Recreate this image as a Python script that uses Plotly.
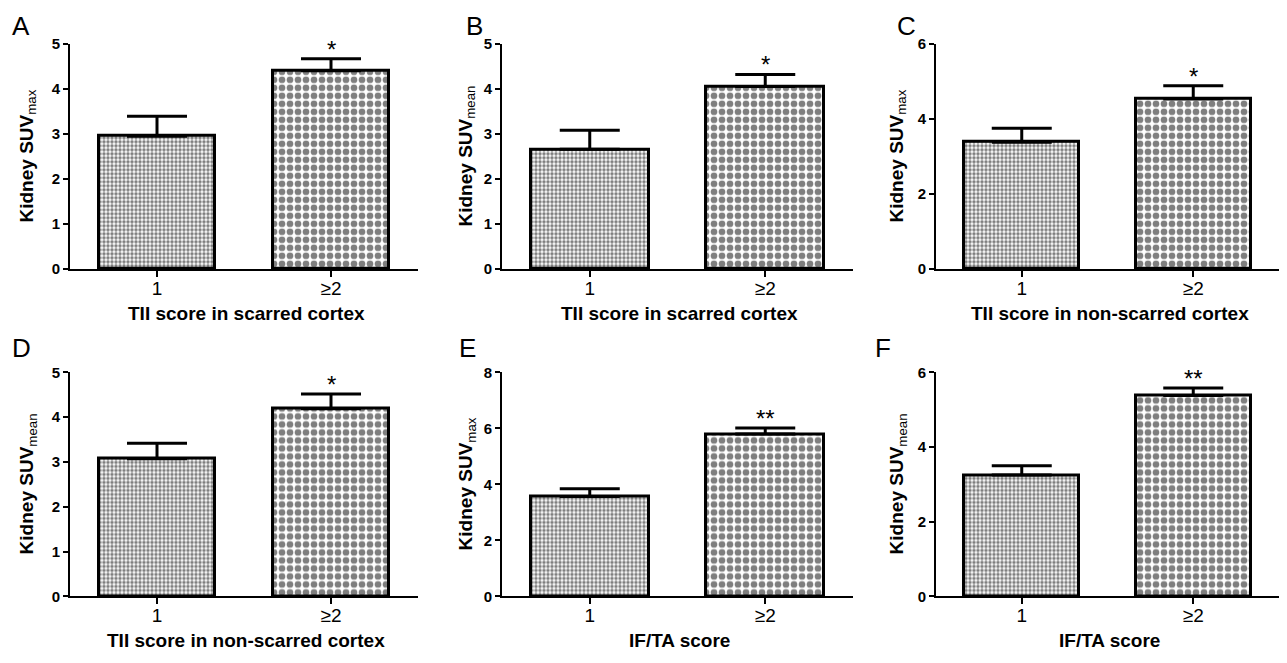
import plotly.graph_objects as go

# page body has an 8px default margin; figure coordinates = reference pixels - OFF
OFF = 8
W, H = 1287 - 2 * OFF, 663 - 2 * OFF

categories = ["1", "≥2"]

panel_letters = ["A", "B", "C", "D", "E", "F"]

means_A = [2.95, 4.40]
sem_A = [0.44, 0.27]
means_B = [2.66, 4.05]
sem_B = [0.42, 0.27]
means_C = [3.38, 4.53]
sem_C = [0.37, 0.35]
means_D = [3.07, 4.19]
sem_D = [0.35, 0.33]
means_E = [3.57, 5.80]
sem_E = [0.27, 0.21]
means_F = [3.25, 5.38]
sem_F = [0.25, 0.20]

signif_A = ["", "*"]
signif_B = ["", "*"]
signif_C = ["", "*"]
signif_D = ["", "*"]
signif_E = ["", "**"]
signif_F = ["", "**"]

y_titles = [
    ("Kidney SUV", "max"), ("Kidney SUV", "mean"), ("Kidney SUV", "max"),
    ("Kidney SUV", "mean"), ("Kidney SUV", "max"), ("Kidney SUV", "mean"),
]
x_titles = [
    "TII score in scarred cortex", "TII score in scarred cortex", "TII score in non-scarred cortex",
    "TII score in non-scarred cortex", "IF/TA score", "IF/TA score",
]
y_max = [5, 5, 6, 5, 8, 6]
y_dtick = [1, 1, 2, 1, 2, 2]

means = [means_A, means_B, means_C, means_D, means_E, means_F]
sems = [sem_A, sem_B, sem_C, sem_D, sem_E, sem_F]
signifs = [signif_A, signif_B, signif_C, signif_D, signif_E, signif_F]

# layout geometry in reference pixels
x_px = [(70, 418), (502, 853), (936, 1286)]
y_px = [(35.5, 267), (373, 603)]
ytitle_x = [28, 467, 898]
letter_pos = [(21, 17), (474, 17), (906, 17), (21, 348), (467, 348), (883, 348)]
xtitle_y = [313, 648]

FONT = "Liberation Sans"


def fx(px):
    return (px - OFF) / W


def fy(py):
    return (H - (py - OFF)) / H


fig = go.Figure()
annotations = []
layout = {}

for i in range(6):
    row, col = divmod(i, 3)
    n = "" if i == 0 else str(i + 1)
    xa, ya = "x" + n, "y" + n
    x0, x1 = x_px[col]
    yt, yb = y_px[row]

    fig.add_trace(go.Bar(
        x=categories, y=means[i], xaxis=xa, yaxis=ya, width=0.67,
        marker=dict(
            color="white",
            line=dict(color="black", width=3),
            pattern=dict(shape=".", fgcolor="black", bgcolor="white",
                         size=[4, 8], solidity=[0.6, 0.55]),
        ),
        error_y=dict(type="data", symmetric=False, array=sems[i], arrayminus=[0, 0],
                     color="black", thickness=3, width=30),
        showlegend=False, hoverinfo="skip",
    ))

    tickvals = list(range(0, y_max[i] + 1, y_dtick[i]))
    layout["xaxis" + n] = dict(
        domain=[fx(x0), min(fx(x1), 1.0)], anchor=ya, range=[-0.5, 1.5], type="category",
        showline=True, linecolor="black", linewidth=2,
        ticks="outside", ticklen=6, tickwidth=2, tickcolor="black",
        ticklabelstandoff=-5,
        tickfont=dict(family=FONT, size=19, color="black"),
        showgrid=False, zeroline=False, fixedrange=True,
    )
    layout["yaxis" + n] = dict(
        domain=[fy(yb), fy(yt)], anchor=xa, range=[0, y_max[i]],
        tickvals=tickvals, ticktext=["<b>%d</b>" % v for v in tickvals],
        showline=True, linecolor="black", linewidth=2,
        ticks="outside", ticklen=5, tickwidth=2, tickcolor="black",
        tickfont=dict(family=FONT, size=15, color="black"),
        showgrid=False, zeroline=False, fixedrange=True,
    )

    # axis titles
    annotations.append(dict(
        text="<b>" + x_titles[i] + "</b>", xref="paper", yref="paper",
        x=fx((x0 + min(x1, 1279)) / 2 + 2), y=fy(xtitle_y[row]),
        xanchor="center", yanchor="middle", showarrow=False,
        font=dict(family=FONT, size=19, color="black"),
    ))
    main, sub = y_titles[i]
    annotations.append(dict(
        text="<b>" + main + "</b><sub>" + sub + "</sub>",
        xref="paper", yref="paper",
        x=fx(ytitle_x[col]), y=fy((yt + yb) / 2),
        xanchor="center", yanchor="middle", textangle=-90, showarrow=False,
        font=dict(family=FONT, size=19, color="black"),
    ))
    # panel letter
    lx, ly = letter_pos[i]
    annotations.append(dict(
        text=panel_letters[i], xref="paper", yref="paper",
        x=fx(lx), y=fy(ly), xanchor="center", yanchor="middle",
        showarrow=False, font=dict(family=FONT, size=26, color="black"),
    ))
    # significance stars
    for k, s in enumerate(signifs[i]):
        if s:
            annotations.append(dict(
                text=s, xref=xa, yref=ya, x=categories[k],
                y=means[i][k] + sems[i][k], xanchor="center", yanchor="bottom",
                yshift=-6, showarrow=False,
                font=dict(family=FONT, size=24, color="black"),
            ))

fig.update_layout(
    width=W, height=H, margin=dict(l=0, r=0, t=0, b=0),
    paper_bgcolor="white", plot_bgcolor="white",
    annotations=annotations, bargap=0, **layout,
)

fig.write_html("out.html")
